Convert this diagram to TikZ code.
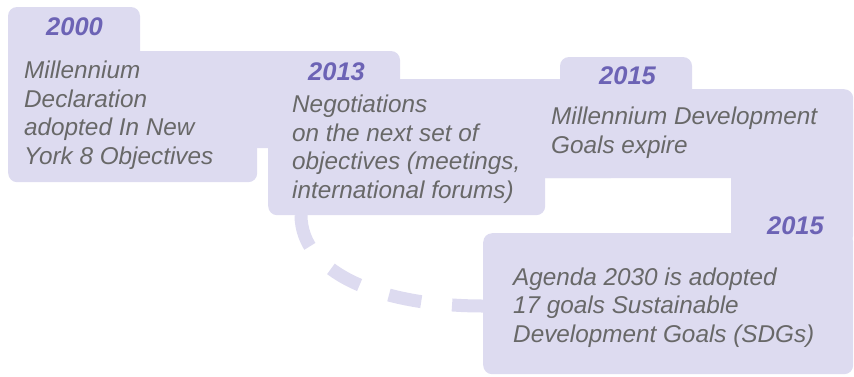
\documentclass[tikz,border=0pt]{standalone}
\usepackage{fontspec}
\setmainfont{Liberation Sans}
\definecolor{cardfill}{RGB}{221,219,240}
\definecolor{yearcol}{RGB}{108,99,181}
\definecolor{bodytext}{RGB}{104,104,104}
\begin{document}
\begin{tikzpicture}[x=1pt,y=1pt,
  cardpart/.style={fill=cardfill, rounded corners=9pt},
  cardbox/.style={fill=cardfill, rounded corners=9pt, draw=none, inner sep=0,
    anchor=north west},
  year/.style={anchor=base west, inner sep=0, text=yearcol,
    font=\fontsize{25.5}{28}\selectfont\bfseries\itshape},
  % multi-line texts are placed by the baseline of their last line
  desc/.style={anchor=base west, inner sep=0, align=left, text=bodytext,
    font=\fontsize{24.3}{28.5}\selectfont\itshape},
  link/.style={draw=cardfill, line width=13pt, dash pattern=on 33pt off 31pt}]
\useasboundingbox (0,0) rectangle (854,-376);

% timeline link from the 2013 card to the agenda card (under the cards)
\coordinate (linkstart) at (301,-215);
\coordinate (linkend) at (483,-306);
\draw[link] (linkstart) .. controls (301,-272) and (378,-306) .. (linkend);

% card 1: 2000
\fill[cardpart] (8,-7) rectangle (140,-70);
\fill[cardpart] (8,-51) rectangle (400,-148);
\node[cardbox, minimum width=249, minimum height=131] (c1) at (8,-51) {};

% card 2: 2013
\fill[cardpart] (268,-79) rectangle (620,-178);
\node[cardbox, minimum width=277, minimum height=136] (c2) at (268,-79) {};

% card 3: 2015
\fill[cardpart] (560,-57) rectangle (692,-100);
\node[cardbox, minimum width=323, minimum height=89] (c3) at (530,-89) {};

% card 4: 2015, tab on the right
\fill[cardpart] (731,-100) rectangle (853,-245);
\node[cardbox, minimum width=370, minimum height=141] (c4) at (483,-233) {};

% years
\node[year] (y1) at (46,-35) {2000};
\node[year] (y2) at (308,-80) {2013};
\node[year] (y3) at (599,-84) {2015};
\node[year, anchor=base east] (y4) at (824,-234) {2015};

% descriptions
\node[desc] (t1) at (24,-164) {Millennium\\Declaration\\adopted In New\\York 8 Objectives};
\node[desc] (t2) at (292,-198) {Negotiations\\on the next set of\\objectives (meetings,\\international forums)};
\node[desc] (t3) at (551,-153) {Millennium Development\\Goals expire};
\node[desc] (t4) at (513,-342) {Agenda 2030 is adopted\\17 goals Sustainable\\Development Goals (SDGs)};
\end{tikzpicture}
\end{document}
